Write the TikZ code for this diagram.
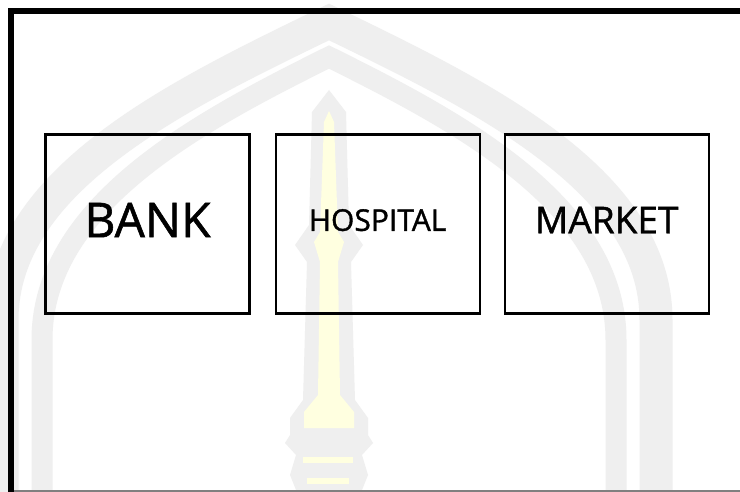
\documentclass[tikz,border=0pt]{standalone}
\usepackage{fontspec}
\setmainfont{Open Sans}
\newfontfamily\placefont[FakeBold=1.2]{Open Sans}
\usetikzlibrary{positioning}
\definecolor{markgray}{RGB}{239,239,239}
\definecolor{markyellow}{RGB}{255,255,224}

\tikzset{
  placebox/.style={draw=black, line width=2.1pt, minimum width=204pt, minimum height=179pt, inner sep=0pt, text depth=8pt, font=\placefont},
}

\begin{document}
\begin{tikzpicture}[x=1pt, y=-1pt]
\useasboundingbox (0,0) rectangle (740,492);
\fill[white] (0,0) rectangle (740,492);

% faint watermark behind the boxes
\draw[markgray, line width=33pt] (656,510) -- (656,320) .. controls (656,180) and (480,95) .. (329,22)
  .. controls (178,95) and (2,180) .. (2,320) -- (2,510);
\draw[markgray, line width=21pt] (616,510) -- (616,340) .. controls (616,205) and (460,122) .. (329,57)
  .. controls (198,122) and (42,205) .. (42,340) -- (42,510);
\fill[markgray] (329,90) -- (346,112) -- (349,225) -- (363,245) -- (351,262) -- (355,400) -- (368,418)
  -- (368,435) -- (373,443) -- (362,455) -- (368,475) -- (360,495) -- (298,495) -- (290,475)
  -- (296,455) -- (285,443) -- (290,435) -- (290,418) -- (303,400) -- (307,262) -- (295,245)
  -- (309,225) -- (312,112) -- cycle;
\fill[markyellow] (329,111) -- (334,122) -- (338,232) -- (344,242) -- (338,262) -- (340,395)
  -- (354,412) -- (354,428) -- (304,428) -- (304,412) -- (318,395) -- (320,262) -- (314,242)
  -- (320,232) -- (324,122) -- cycle;
\fill[markyellow] (303,457) rectangle (353,463);
\fill[markyellow] (307,478) rectangle (349,484);

% frame
\draw[line width=6pt] (11,500) -- (11,11) -- (750,11);
\draw[gray, line width=1.5pt] (14,491) -- (740,491);

% places
\node[placebox] (bank) at (147.5,224) {\fontsize{48}{48}\selectfont BANK};
\node[placebox, right=24pt of bank] (hospital) {\fontsize{30}{30}\selectfont HOSPITAL};
\node[placebox, right=23pt of hospital] (market) {\fontsize{37}{37}\selectfont MARKET};
\end{tikzpicture}
\end{document}
